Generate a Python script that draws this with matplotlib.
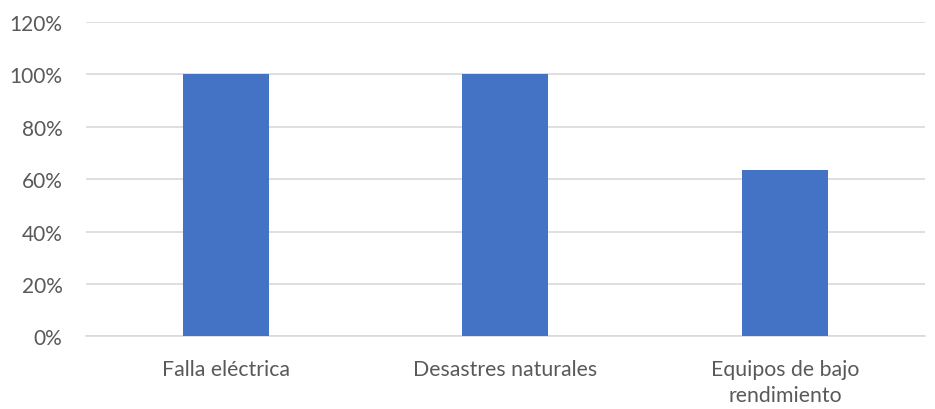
import matplotlib
matplotlib.use("Agg")
import matplotlib.pyplot as plt
from matplotlib.ticker import PercentFormatter

categories = ["Falla eléctrica", "Desastres naturales", "Equipos de bajo\nrendimiento"]
values = [1.00, 1.00, 0.635]
yticks = [0, 0.2, 0.4, 0.6, 0.8, 1.0, 1.2]

plt.rcParams['font.family'] = ['Lato', 'DejaVu Sans']

fig = plt.figure(figsize=(9.35, 4.10), dpi=100)
ax = fig.add_axes([0.092, 0.177, 0.897, 0.767])

x = range(len(categories))
ax.bar(x, values, width=0.307, color="#4472C4", zorder=3)

ax.set_xlim(-0.5, len(categories) - 0.5)
ax.set_ylim(0, 1.2)
ax.set_yticks(yticks)
ax.yaxis.set_major_formatter(PercentFormatter(1.0, decimals=0))
ax.set_xticks(list(x))
ax.set_xticklabels(categories, fontsize=15.3, color="#595959", linespacing=1.42)
ax.tick_params(axis="y", labelsize=15, colors="#595959", length=0, pad=17)
ax.tick_params(axis="x", length=0, pad=16)
ax.grid(axis="y", color="#d9d9d9", linewidth=1.2, zorder=0)

for side in ["top", "right", "left"]:
    ax.spines[side].set_visible(False)
ax.spines["bottom"].set_color("#d9d9d9")
ax.spines["bottom"].set_linewidth(1.2)

fig.savefig("out.png", dpi=100)
